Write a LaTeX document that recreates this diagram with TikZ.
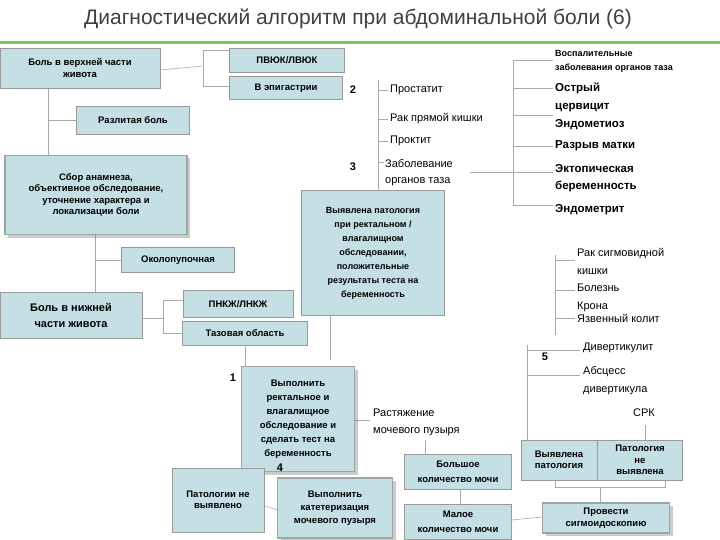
\documentclass[tikz,border=0pt]{standalone}
\usepackage{fontspec}
\setmainfont{Liberation Sans}
\usetikzlibrary{shadows}
\definecolor{bxf}{RGB}{196,224,228}
\definecolor{ln}{RGB}{170,170,170}
\definecolor{grn}{RGB}{120,200,90}
\tikzset{
 bx/.style={draw=gray!80, line width=0.8pt, fill=bxf, font=\bfseries\fontsize{9.5}{11.5}\selectfont, align=center, inner sep=1pt},
 bev/.style={bx, line width=1.6pt, draw=gray!60!bxf, drop shadow={shadow xshift=3pt, shadow yshift=-3pt, opacity=0.4}},
 tx/.style={font=\fontsize{11}{13}\selectfont, anchor=west, align=left, inner sep=0pt},
 btx/.style={font=\bfseries\fontsize{11}{13}\selectfont, anchor=west, align=left, inner sep=0pt},
 num/.style={font=\bfseries\fontsize{11}{12}\selectfont, inner sep=0pt},
 cn/.style={draw=ln, line width=0.6pt}
}
\begin{document}
\begin{tikzpicture}[x=1pt,y=-1pt]
\useasboundingbox (0,0) rectangle (720,540);
\fill[white] (0,0) rectangle (720,540);
\node[font=\fontsize{21}{24}\selectfont, text=black!75] (title) at (358,19) {Диагностический алгоритм при абдоминальной боли (6)};
\draw[grn, line width=3pt] (0,42.5) -- (720,42.5);

% connectors (drawn first)
\draw[cn] (160,70) -- (203,66);
\draw[cn] (230,50) -- (203,50) -- (203,86) -- (230,86);
\draw[cn] (48,88) -- (48,156);
\draw[cn] (48,120) -- (77,120);
\draw[cn] (95,235) -- (95,292);
\draw[cn] (95,260) -- (122,260);
\draw[cn] (142,318) -- (163,318);
\draw[cn] (183,300) -- (163,300) -- (163,333) -- (183,333);
\draw[cn] (245,345) -- (245,368);
\draw[cn] (330,315) -- (330,360);
\draw[cn] (378,80) -- (378,195);
\draw[cn] (378,90) -- (388,90);
\draw[cn] (378,119) -- (388,119);
\draw[cn] (378,141) -- (388,141);
\draw[cn] (378,162) -- (384,162);
\draw[cn] (470,172) -- (553,172);
\draw[cn] (513,60) -- (513,205);
\foreach \yy in {60,88,115,146,205} \draw[cn] (513,\yy) -- (553,\yy);
\draw[cn] (555,255) -- (555,335);
\foreach \yy in {260,290,318} \draw[cn] (555,\yy) -- (575,\yy);
\draw[cn] (527,345) -- (527,440);
\draw[cn] (527,350) -- (580,350);
\draw[cn] (527,375) -- (580,375);
\draw[cn] (645,425) -- (645,440);
\draw[cn] (425,440) -- (425,455);
\draw[cn] (460,490) -- (460,505);
\draw[cn] (512,520) -- (542,517);
\draw[cn] (555,480) -- (555,487) -- (665,487) -- (665,480);
\draw[cn] (600,487) -- (600,503);
\draw[cn] (240,475) -- (240,497);
\draw[cn] (262,505) -- (277,510);
\draw[cn] (355,420) -- (370,420);

% boxes
\node[bx, minimum width=160, minimum height=40] (up) at (80,68) {Боль в верхней части\\живота};
\node[bx, minimum width=115, minimum height=24] (pv) at (287,60) {ПВЮК/ЛВЮК};
\node[bx, minimum width=113, minimum height=23] (ep) at (286,88) {В эпигастрии};
\node[num] (n2) at (353,90) {2};
\node[bx, minimum width=113, minimum height=28] (raz) at (133,120) {Разлитая боль};
\node[bev, minimum width=182, minimum height=79] (sbor) at (96,195) {Сбор анамнеза,\\объективное обследование,\\уточнение характера и\\локализации боли};
\node[bx, minimum width=113, minimum height=25] (okol) at (178,260) {Околопупочная};
\node[bx, font=\bfseries\fontsize{11}{16}\selectfont, minimum width=142, minimum height=46] (low) at (71,315) {Боль в нижней\\части живота};
\node[bx, minimum width=110, minimum height=27] (pn) at (238,304) {ПНКЖ/ЛНКЖ};
\node[bx, minimum width=125, minimum height=24] (taz) at (245,333) {Тазовая область};
\node[num] (n3) at (353,167) {3};
\node[bx, font=\bfseries\fontsize{9}{14}\selectfont, minimum width=143, minimum height=125] (vyp) at (373,253) {Выявлена патология\\при ректальном /\\влагалищном\\обследовании,\\положительные\\результаты теста на\\беременность};

\node[tx] (pros) at (390,90) {Простатит};
\node[tx] (rak) at (390,119) {Рак прямой кишки};
\node[tx] (prok) at (390,141) {Проктит};
\node[tx, font=\fontsize{11}{16}\selectfont] (zab) at (385,173) {Заболевание\\органов таза};

\node[btx, font=\bfseries\fontsize{9}{14}\selectfont] (vos) at (555,61) {Воспалительные\\заболевания органов таза};
\node[btx, font=\bfseries\fontsize{11.5}{18}\selectfont] (ostr) at (555,97) {Острый\\цервицит};
\node[btx, font=\bfseries\fontsize{11.5}{13}\selectfont] (endm) at (555,125) {Эндометиоз};
\node[btx, font=\bfseries\fontsize{11.5}{13}\selectfont] (razr) at (555,146) {Разрыв матки};
\node[btx, font=\bfseries\fontsize{11.5}{17}\selectfont] (ekt) at (555,178) {Эктопическая\\беременность};
\node[btx, font=\bfseries\fontsize{11.5}{13}\selectfont] (endt) at (555,210) {Эндометрит};

\node[tx, font=\fontsize{11}{17.5}\selectfont] (sig) at (577,280) {Рак сигмовидной\\кишки\\Болезнь\\Крона};
\node[tx] (yaz) at (577,318) {Язвенный колит};
\node[num] (n5) at (545,357) {5};
\node[tx] (div) at (583,348) {Дивертикулит};
\node[tx, font=\fontsize{11}{18}\selectfont] (abs) at (583,381) {Абсцесс\\дивертикула};
\node[tx] (srk) at (633,413) {СРК};

\node[num] (n1) at (233,378) {1};
\node[bev, font=\bfseries\fontsize{9.5}{14}\selectfont, minimum width=113, minimum height=105] (vypl) at (298,419) {Выполнить\\ректальное и\\влагалищное\\обследование и\\сделать тест на\\беременность};
\node[tx, font=\fontsize{11}{17}\selectfont] (rast) at (373,422) {Растяжение\\мочевого пузыря};
\node[bx, font=\bfseries\fontsize{9.5}{15}\selectfont, minimum width=107, minimum height=35] (bol) at (458,472) {Большое\\количество мочи};
\node[bx, font=\bfseries\fontsize{9.5}{15}\selectfont, minimum width=107, minimum height=35] (mal) at (458,522) {Малое\\количество мочи};
\node[bx, minimum width=76, minimum height=40] (vpat) at (559,460) {Выявлена\\патология};
\node[bx, minimum width=85, minimum height=40] (npat) at (640,460) {Патология\\не\\выявлена};
\node[bev, minimum width=127, minimum height=30] (sigm) at (606,518) {Провести\\сигмоидоскопию};
\node[num] (n4) at (280,468) {4};
\node[bev, font=\bfseries\fontsize{9.5}{13}\selectfont, minimum width=115, minimum height=60] (kat) at (335,508) {Выполнить\\катетеризация\\мочевого пузыря};
\node[bx, minimum width=92, minimum height=64] (pnv) at (218,500) {Патологии не\\выявлено};
\end{tikzpicture}
\end{document}
